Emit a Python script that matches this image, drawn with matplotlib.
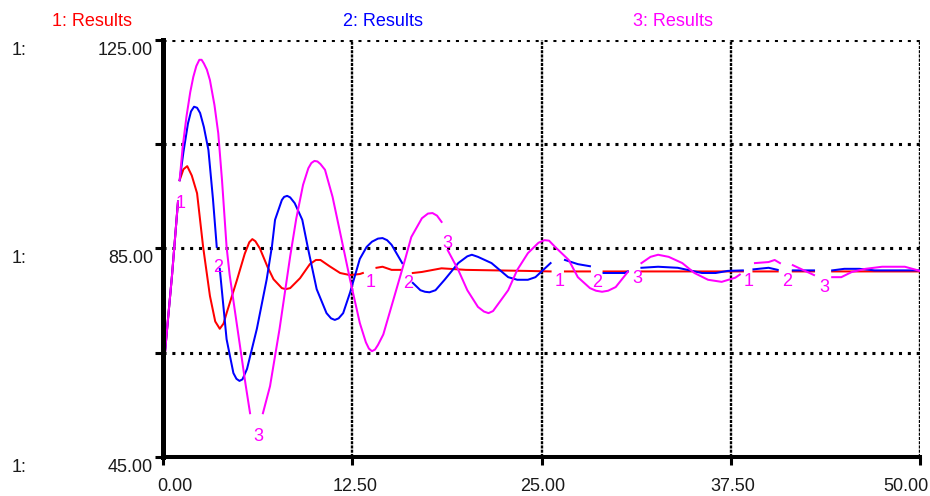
import numpy as np
import matplotlib
matplotlib.use("Agg")
import matplotlib.pyplot as plt

plt.rcParams['font.family'] = ['Liberation Sans', 'DejaVu Sans']

nan = np.nan

# time / value pairs; nan marks where a curve is broken for its label
t1 = [0, 0.3, 0.6, 0.99, 1.05, 1.1, 1.35, 1.6, 1.9, 2.25, 2.65, 3.1, 3.45, 3.75, 4.0, 4.2,
      4.9, 5.4, 5.7, 5.9, 6.1, 6.4, 6.9, 7.3, 7.85, 8.1, 8.4, 9.05, 9.7, 10.1, 10.4, 11.0, 11.7, 12.35, 13.0,
      13.2, 13.65, 14.1, 14.5, 15.1, 15.7, 16.1, 16.5, 17.1, 18.4, 20.0, 22.0, 24.0, 25.6,
      26.1, 26.55, 28.2, 28.65, 29.1, 30.7, 31.15, 31.6, 34.0, 36.0, 38.3, 38.65, 39.0,
      40.6, 41.1, 41.6, 43.0, 43.6, 44.2, 47.0, 50.0]
v1 = [60.8, 70.5, 80.0, 94.0, nan, 98.1, 100.2, 100.8, 99.0, 95.6, 85.3, 75.9, 71.0, 69.6, 70.6, 72.6,
      79.1, 84.0, 86.2, 86.8, 86.4, 85.0, 81.5, 79.1, 77.4, 77.2, 77.4, 79.3, 82.0, 82.8, 82.8, 81.6, 80.3, 79.9, 80.1,
      80.3, nan, 81.3, 81.5, 80.9, 80.9, nan, 80.3, 80.5, 81.2, 80.9, 80.8, 80.7, 80.6,
      nan, 80.6, 80.6, nan, 80.6, 80.6, nan, 80.6, 80.6, 80.6, 80.6, nan, 80.6,
      80.6, nan, 80.6, 80.6, nan, 80.6, 80.6, 80.6]

t2 = [0, 0.3, 0.6, 0.99, 1.05, 1.1, 1.35, 1.65, 1.85, 2.05, 2.25, 2.45, 2.7, 3.0, 3.3, 3.55, 3.65, 3.75,
      4.2, 4.65, 4.85, 5.05, 5.25, 5.55, 6.2, 6.85, 7.2, 7.4, 7.85, 8.0, 8.2, 8.4, 8.7, 9.2, 9.6, 10.15, 10.8,
      11.1, 11.35, 11.6, 11.9, 12.35, 13.0, 13.45, 13.8, 14.2, 14.5, 14.8, 15.1, 15.8, 16.15, 16.5, 17.0, 17.3, 17.6, 18.0,
      18.6, 19.5, 20.1, 20.4, 20.8, 21.7, 22.8, 23.4, 24.1, 24.6, 25.6, 26.1, 26.55, 27.4, 28.2,
      28.65, 29.1, 30.5, 30.7, 31.15, 31.6, 32.7, 34.0, 35.6, 36.5, 37.3, 38.3, 38.65,
      39.0, 40.0, 40.6, 41.1, 41.6, 43.0, 43.6, 44.2, 45.0, 46.0, 47.0, 50.0]
v2 = [60.8, 70.5, 80.0, 94.0, nan, 98.1, 103.5, 109.0, 111.3, 112.2, 112.0, 111.0, 108.3, 103.9, 94.5, 85.3, nan, 81.1,
      67.6, 61.1, 60.0, 59.6, 59.9, 61.9, 69.6, 79.1, 85.5, 90.5, 94.3, 94.9, 95.1, 94.8, 93.7, 90.5, 84.7, 77.2, 72.6,
      71.6, 71.3, 71.6, 72.6, 76.5, 83.0, 85.3, 86.3, 86.9, 87.0, 86.6, 85.7, 82.2, nan, 78.4, 77.0, 76.7, 76.6, 77.0,
      79.0, 82.2, 83.5, 83.8, 83.4, 82.2, 79.5, 79.0, 79.0, 79.5, 82.2, nan, 82.8, 82.0, 81.6,
      nan, 80.3, 80.3, 80.6, nan, 81.3, 81.5, 81.3, 80.3, 80.3, 80.7, 80.8, nan,
      81.0, 81.3, 80.9, nan, 80.8, 80.8, nan, 80.8, 81.1, 81.1, 80.8, 80.8]

t3 = [0, 0.3, 0.6, 0.99, 1.05, 1.1, 1.3, 1.55, 1.8, 2.0, 2.2, 2.4, 2.55, 2.7, 2.9, 3.1, 3.4, 3.65, 3.9, 4.2, 4.4, 4.75, 5.1,
      5.45, 5.75, 6.1, 6.6, 7.07, 7.7, 8.4, 8.8, 9.25, 9.6, 9.8, 10.0, 10.2, 10.4, 10.7, 11.2, 11.9,
      12.35, 13.0, 13.4, 13.6, 13.8, 14.0, 14.2, 14.55, 15.2, 15.65, 16.0, 16.4, 17.1, 17.5, 17.8, 18.1, 18.4,
      18.6, 18.8, 19.5, 20.1, 20.8, 21.2, 21.5, 21.8, 22.1, 22.8, 23.4, 24.1, 24.8, 25.2, 25.5, 25.9, 26.8,
      27.4, 28.2, 28.6, 29.0, 29.4, 29.9, 30.7, 31.15, 31.6, 32.2, 32.7, 33.4, 34.3, 35.1, 36.0, 36.9, 37.8,
      38.1, 38.6, 39.1, 40.0, 40.4, 40.75, 41.2, 41.6, 43.0, 43.6, 44.2, 44.8, 45.5, 46.4,
      47.5, 49.0, 50.0]
v3 = [60.8, 70.5, 80.0, 94.0, nan, 98.1, 104.5, 110.3, 115.0, 117.9, 120.0, 121.2, 121.2, 120.5, 119.3, 117.3, 112.5, 107.1, 98.0, 85.3, 80.0, 73.0, 66.0,
      59.0, 53.4, nan, 53.4, 58.6, 69.6, 83.5, 90.7, 97.2, 100.4, 101.4, 101.8, 101.7, 101.2, 100.1, 94.9, 85.3,
      79.1, 70.7, 67.0, 65.8, 65.3, 65.6, 66.5, 68.5, 75.0, 79.5, 83.0, 87.2, 90.8, 91.7, 91.8, 91.3, 90.1,
      nan, 84.7, 80.9, 77.0, 73.8, 72.9, 72.6, 73.0, 74.2, 77.0, 80.9, 84.1, 86.1, 86.6, 86.5, 85.3, 82.8,
      79.5, 77.4, 76.9, 76.7, 76.9, 77.6, 80.5, nan, 82.2, 83.4, 83.8, 83.4, 82.2, 80.3, 79.0, 78.6, 79.4,
      80.0, nan, 82.2, 82.4, 82.8, 82.2, nan, 81.8, 79.9, nan, 79.5, 79.5, 80.5, 81.1,
      81.5, 81.5, 80.7]

series_names = ['1: Results', '2: Results', '3: Results']
series_colors = ['#ff0000', '#0000ff', '#ff00ff']

label_text = ['1', '2', '3', '1', '2', '3', '1', '2', '3', '1', '2', '3']
label_t = [1.15, 3.63, 6.27, 13.74, 16.2, 18.8, 26.2, 28.7, 31.3, 38.7, 41.2, 43.7]
label_v = [93.7, 81.3, 49.0, 78.4, 78.2, 85.9, 78.6, 78.4, 79.3, 78.6, 78.6, 77.6]

x_ticks = [0, 12.5, 25, 37.5, 50]
x_tick_labels = ['0.00', '12.50', '25.00', '37.50', '50.00']
y_ticks = [45, 65, 85, 105, 125]
y_label_vals = [125, 85, 45]
y_tick_labels = ['125.00', '85.00', '45.00']

fig = plt.figure(figsize=(9.3, 4.96), dpi=100)
ax = fig.add_axes([163 / 930, 39 / 496, 757 / 930, 417 / 496])

for t, v, c in zip([t1, t2, t3], [v1, v2, v3], series_colors):
    assert len(t) == len(v)
    ax.plot(t, v, color=c, lw=1.45, solid_joinstyle='round')

for txt, t, v in zip(label_text, label_t, label_v):
    ax.text(t, v, txt, color='#ff00ff', fontsize=13, ha='center', va='center')

ax.set_xlim(0, 50)
ax.set_ylim(45, 125)
ax.set_xticks(x_ticks)
ax.set_yticks(y_ticks)
ax.tick_params(direction='out', length=5.8, width=2.2, color='black',
               labelleft=False, labelbottom=False)
ax.set_axisbelow(True)
ax.grid(axis='y', color='black', lw=2.2, linestyle=(0, (1, 1.9)))
ax.grid(axis='x', color='black', lw=1.7, linestyle=(0, (1.3, 0.5)))

for side in ['top', 'right']:
    ax.spines[side].set_visible(False)
ax.spines['left'].set_linewidth(3.6)
ax.spines['bottom'].set_linewidth(2.9)

# axis numbers (placed like the original: shifted off the tick)
x_offsets = [8.6, 2.0, 1.0, 1.5, -10.0]
for xv, lab, dx in zip(x_ticks, x_tick_labels, x_offsets):
    ax.annotate(lab, xy=(xv, 0), xycoords=('data', 'axes fraction'),
                xytext=(dx, -21.2), textcoords='offset points',
                ha='center', va='center', fontsize=13, color='#1a1a1a')
for yv, lab in zip(y_label_vals, y_tick_labels):
    ax.annotate(lab, xy=(0, yv), xycoords=('axes fraction', 'data'),
                xytext=(-7.2, -7.4), textcoords='offset points',
                ha='right', va='center', fontsize=13, color='#1a1a1a')
    ax.annotate('1:', xy=(0, yv), xycoords=('figure fraction', 'data'),
                xytext=(8.6, -7.4), textcoords='offset points',
                ha='left', va='center', fontsize=13, color='#1a1a1a')

# series headers
header_x = [92, 383, 673]
for name, c, hx in zip(series_names, series_colors, header_x):
    fig.text(hx / 930, 1 - 21 / 496, name, color=c, fontsize=13, ha='center', va='center')

fig.savefig('out.png', dpi=100)
